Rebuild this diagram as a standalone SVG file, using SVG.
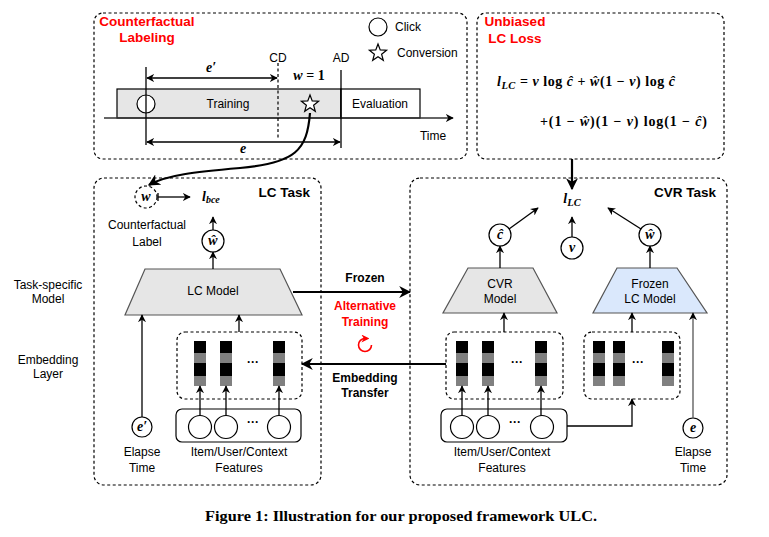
<svg xmlns="http://www.w3.org/2000/svg" xmlns:xlink="http://www.w3.org/1999/xlink" width="769" height="537" viewBox="0 0 769 537">
<style>
.dash{fill:none;stroke:#000;stroke-width:1.2;stroke-dasharray:3 2.5}
.ln{fill:none;stroke:#000;stroke-width:1.3}
.thick{fill:none;stroke:#000;stroke-width:2.2}
.t{font-family:"Liberation Sans",Arial,sans-serif;font-size:12px;fill:#000}
.c{text-anchor:middle}
.b{font-weight:bold}
.red{fill:#ff0000;font-weight:bold;font-size:13.5px}
.ttl{font-weight:bold;font-size:13.5px}
.m{font-family:"Liberation Serif","Times New Roman",serif;font-size:14px;font-weight:bold;fill:#000}
.i{font-style:italic}
.circ{fill:#fff;stroke:#000;stroke-width:1.2}
.gray{fill:#e6e6e6}
.blue{fill:#dae8fc}
.trap{stroke:#555;stroke-width:1.2}
.blk{fill:#000}
.gr{fill:#808080}
</style>
<defs>
<marker id="ah" viewBox="0 0 10 10" refX="9" refY="5" markerWidth="8" markerHeight="8" markerUnits="userSpaceOnUse" orient="auto-start-reverse"><path d="M0,0 L10,5 L0,10 L3,5 z" fill="#000"/></marker>
<marker id="ahL" viewBox="0 0 10 10" refX="9" refY="5" markerWidth="12" markerHeight="12" markerUnits="userSpaceOnUse" orient="auto"><path d="M0,0 L10,5 L0,10 L3,5 z" fill="#000"/></marker>
<marker id="ahR" viewBox="0 0 10 10" refX="7" refY="5" markerWidth="8" markerHeight="8" markerUnits="userSpaceOnUse" orient="auto"><path d="M0,0 L10,5 L0,10 L3,5 z" fill="#ff0000"/></marker>
<path id="star" d="M0,-9 L2.23,-3.07 L8.56,-2.78 L3.61,1.17 L5.29,7.28 L0,3.8 L-5.29,7.28 L-3.61,1.17 L-8.56,-2.78 L-2.23,-3.07 Z" fill="#fff" stroke="#000" stroke-width="1.2"/>
<g id="bar"><rect x="0" y="341" width="12" height="12" class="blk"/><rect x="0" y="353" width="12" height="10" class="gr"/><rect x="0" y="363" width="12" height="13" class="blk"/><rect x="0" y="376" width="12" height="10" class="gr"/></g>
</defs>
<rect width="769" height="537" fill="#fff"/>

<!-- Counterfactual Labeling panel -->
<g id="counterfactual-labeling">
<rect x="94" y="13" width="373" height="146" rx="9" class="dash"/>
<text x="147" y="26" class="t c red">Counterfactual</text>
<text x="147" y="42" class="t c red">Labeling</text>
<circle cx="378" cy="27" r="9" class="circ"/>
<text x="395" y="31" class="t">Click</text>
<use xlink:href="#star" x="378" y="53"/>
<text x="397" y="57" class="t">Conversion</text>
<rect x="117" y="89" width="224" height="29" fill="#e6e6e6" stroke="#000" stroke-width="1.2"/>
<rect x="341" y="89" width="79" height="29" fill="#fff" stroke="#000" stroke-width="1.2"/>
<line x1="104" y1="118" x2="453" y2="118" stroke="#333" stroke-width="1.3" marker-end="url(#ah)"/>
<text x="433" y="140" class="t c">Time</text>
<circle cx="146" cy="104" r="9" class="circ"/>
<use xlink:href="#star" x="310" y="104"/>
<text x="228" y="108" class="t c">Training</text>
<text x="380" y="108" class="t c">Evaluation</text>
<line x1="146" y1="67" x2="146" y2="145" class="ln"/>
<line x1="278" y1="63" x2="278" y2="140" class="dash"/>
<line x1="341" y1="70" x2="341" y2="148" class="ln"/>
<text x="278" y="62" class="t c">CD</text>
<text x="341" y="62" class="t c">AD</text>
<line x1="147" y1="78" x2="277" y2="78" class="ln" marker-start="url(#ah)" marker-end="url(#ah)"/>
<line x1="147" y1="142" x2="340" y2="142" class="ln" marker-start="url(#ah)" marker-end="url(#ah)"/>
<text x="211" y="72" class="m c i">e′</text>
<text x="243" y="153" class="m c i">e</text>
<text x="309" y="80" class="m c"><tspan class="i">w</tspan> = 1</text>
</g>

<!-- Unbiased LC loss panel -->
<g id="unbiased-lc-loss">
<rect x="477" y="13" width="247" height="146" rx="9" class="dash"/>
<text x="515" y="26" class="t c red">Unbiased</text>
<text x="515" y="43" class="t c red">LC Loss</text>
<text x="497" y="86" class="m" font-size="15" textLength="178" lengthAdjust="spacing"><tspan class="i">l</tspan><tspan class="i" font-size="10.5" dy="3">LC</tspan><tspan dy="-3"> = </tspan><tspan class="i">v</tspan> log <tspan class="i">ĉ</tspan> + <tspan class="i">ŵ</tspan>(1 − <tspan class="i">v</tspan>) log <tspan class="i">ĉ</tspan></text>
<text x="540" y="126" class="m" font-size="15" textLength="167" lengthAdjust="spacing">+(1 − <tspan class="i">ŵ</tspan>)(1 − <tspan class="i">v</tspan>) log(1 − <tspan class="i">ĉ</tspan>)</text>
</g>

<!-- Left row labels -->
<g id="row-labels">
<text x="48" y="289" class="t c">Task-specific</text>
<text x="48" y="303" class="t c">Model</text>
<text x="48" y="364" class="t c">Embedding</text>
<text x="48" y="378" class="t c">Layer</text>
</g>

<!-- LC Task -->
<g id="lc-task">
<rect x="94" y="178" width="227" height="307" rx="10" class="dash"/>
<text x="310" y="197" class="t ttl" text-anchor="end">LC Task</text>
<circle cx="146" cy="197" r="11" fill="#fff" class="dash"/>
<text x="146" y="201" class="m c i">w</text>
<text x="202" y="201" class="m i">l<tspan font-size="10" dy="2">bce</tspan></text>
<text x="147" y="229" class="t c">Counterfactual</text>
<text x="147" y="246" class="t c">Label</text>
<circle cx="213" cy="241" r="11" class="circ"/>
<text x="213" y="245" class="m c i">ŵ</text>
<polygon points="145,269 280,269 302,315 125,315" class="gray trap"/>
<text x="213" y="295" class="t c">LC Model</text>
<rect x="177" y="332" width="125" height="67" rx="8" fill="#e6e6e6" class="dash"/>
<use xlink:href="#bar" x="194"/>
<use xlink:href="#bar" x="220"/>
<use xlink:href="#bar" x="273"/>
<text x="253" y="366" class="t c b" font-size="14">···</text>
<rect x="176" y="409" width="125" height="33" rx="6" fill="#fff" stroke="#000" stroke-width="1.2"/>
<circle cx="200" cy="427" r="11.5" class="circ"/>
<circle cx="226" cy="427" r="11.5" class="circ"/>
<circle cx="279" cy="427" r="11.5" class="circ"/>
<text x="253" y="426" class="t c b" font-size="14">···</text>
<text x="239" y="456" class="t c">Item/User/Context</text>
<text x="239" y="472" class="t c">Features</text>
<circle cx="142" cy="427" r="10" class="circ"/>
<text x="142" y="431" class="m c i">e′</text>
<text x="142" y="456" class="t c">Elapse</text>
<text x="142" y="472" class="t c">Time</text>
</g>

<!-- CVR Task -->
<g id="cvr-task">
<rect x="410" y="178" width="317" height="307" rx="10" class="dash"/>
<text x="716" y="197" class="t ttl" text-anchor="end">CVR Task</text>
<text x="572" y="203" class="m c i" font-size="15">l<tspan font-size="10.5" dy="3">LC</tspan></text>
<circle cx="500" cy="235" r="11" class="circ"/>
<text x="500" y="239" class="m c i">ĉ</text>
<circle cx="572" cy="248" r="11" class="circ"/>
<text x="572" y="252" class="m c i">v</text>
<circle cx="650" cy="235" r="11" class="circ"/>
<text x="650" y="239" class="m c i">ŵ</text>
<polygon points="468,268 533,268 557,313 443,313" class="gray trap"/>
<text x="500" y="288" class="t c">CVR</text>
<text x="500" y="303" class="t c">Model</text>
<polygon points="617,268 677,268 707,313 593,313" class="blue trap"/>
<text x="650" y="288" class="t c">Frozen</text>
<text x="650" y="303" class="t c">LC Model</text>
<rect x="446" y="332" width="117" height="67" rx="8" fill="#e6e6e6" class="dash"/>
<use xlink:href="#bar" x="456"/>
<use xlink:href="#bar" x="482"/>
<use xlink:href="#bar" x="535"/>
<text x="517" y="366" class="t c b" font-size="14">···</text>
<rect x="584" y="332" width="96" height="67" rx="8" fill="#dae8fc" class="dash"/>
<use xlink:href="#bar" x="593"/>
<use xlink:href="#bar" x="613"/>
<use xlink:href="#bar" x="662"/>
<text x="638" y="366" class="t c b" font-size="14">···</text>
<rect x="441" y="409" width="126" height="33" rx="6" fill="#fff" stroke="#000" stroke-width="1.2"/>
<circle cx="462" cy="427" r="11.5" class="circ"/>
<circle cx="488" cy="427" r="11.5" class="circ"/>
<circle cx="542" cy="427" r="11.5" class="circ"/>
<text x="515" y="426" class="t c b" font-size="14">···</text>
<text x="502" y="456" class="t c">Item/User/Context</text>
<text x="502" y="472" class="t c">Features</text>
<circle cx="693" cy="428" r="10" class="circ"/>
<text x="693" y="432" class="m c i">e</text>
<text x="693" y="456" class="t c">Elapse</text>
<text x="693" y="472" class="t c">Time</text>
</g>

<!-- middle labels -->
<g id="middle-labels">
<text x="365" y="282" class="t c b">Frozen</text>
<text x="365" y="310" class="t c b" style="fill:#ff0000">Alternative</text>
<text x="365" y="326" class="t c b" style="fill:#ff0000">Training</text>
<path d="M371.5,345 A6.5,6.5 0 1 1 365,338.5 L367,338.5" fill="none" stroke="#ff0000" stroke-width="1.6" marker-end="url(#ahR)"/>
<text x="365" y="382" class="t c b">Embedding</text>
<text x="365" y="397" class="t c b">Transfer</text>
</g>

<!-- connectors -->
<g id="connectors">
<path d="M310,113 C307,150 296,163 240,168 C195,172 166,175 149,185" class="thick" marker-end="url(#ahL)"/>
<line x1="572" y1="159" x2="572" y2="189" class="thick" marker-end="url(#ahL)"/>
<line x1="293" y1="292" x2="410" y2="292" class="thick" marker-end="url(#ahL)"/>
<line x1="446" y1="364" x2="302" y2="364" class="thick" marker-end="url(#ahL)"/>
<line x1="158" y1="193" x2="158" y2="201" class="ln"/>
<line x1="158" y1="197" x2="190" y2="197" class="ln" marker-end="url(#ah)"/>
<line x1="213" y1="230" x2="213" y2="217" class="ln" marker-end="url(#ah)"/>
<line x1="213" y1="269" x2="213" y2="252" class="ln" marker-end="url(#ah)"/>
<line x1="142" y1="417" x2="142" y2="315" class="ln" marker-end="url(#ah)"/>
<line x1="239" y1="332" x2="239" y2="315" class="ln" marker-end="url(#ah)"/>
<line x1="200" y1="415.5" x2="200" y2="386" class="ln" marker-end="url(#ah)"/>
<line x1="226" y1="415.5" x2="226" y2="386" class="ln" marker-end="url(#ah)"/>
<line x1="279" y1="415.5" x2="279" y2="386" class="ln" marker-end="url(#ah)"/>
<line x1="509" y1="229" x2="538" y2="208" class="ln" marker-end="url(#ah)"/>
<line x1="572" y1="237" x2="572" y2="217" class="ln" marker-end="url(#ah)"/>
<line x1="641" y1="229" x2="608" y2="208" class="ln" marker-end="url(#ah)"/>
<line x1="500" y1="268" x2="500" y2="246" class="ln" marker-end="url(#ah)"/>
<line x1="650" y1="268" x2="650" y2="246" class="ln" marker-end="url(#ah)"/>
<line x1="504" y1="332" x2="504" y2="313" class="ln" marker-end="url(#ah)"/>
<line x1="632" y1="332" x2="632" y2="313" class="ln" marker-end="url(#ah)"/>
<line x1="462" y1="415.5" x2="462" y2="386" class="ln" marker-end="url(#ah)"/>
<line x1="488" y1="415.5" x2="488" y2="386" class="ln" marker-end="url(#ah)"/>
<line x1="541" y1="415.5" x2="541" y2="386" class="ln" marker-end="url(#ah)"/>
<polyline points="567,426 632,426 632,399" class="ln" marker-end="url(#ah)"/>
<line x1="693" y1="418" x2="693" y2="313" stroke="#555" stroke-width="1.3" marker-end="url(#ah)"/>
</g>

<text x="205" y="521" font-family="'Liberation Serif','Times New Roman',serif" font-size="14.5" font-weight="bold" textLength="392" lengthAdjust="spacingAndGlyphs">Figure 1: Illustration for our proposed framework ULC.</text>
</svg>
